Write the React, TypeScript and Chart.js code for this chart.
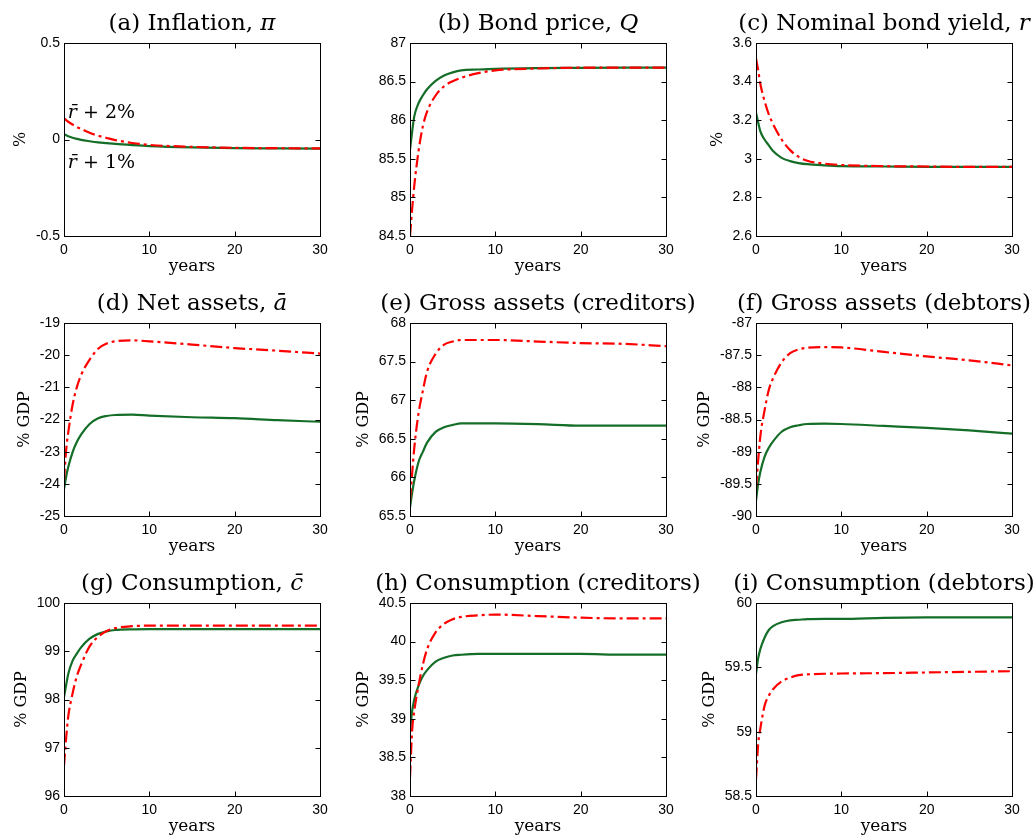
import { useEffect, useRef } from 'react';
import { Chart, registerables } from 'chart.js';

Chart.register(...registerables);

// ---------- data ----------
const YEARS = [0, 0.25, 0.5, 1, 1.5, 2, 3, 4, 5, 6, 8, 10, 15, 20, 25, 30];
const YEAR_TICKS = [0, 10, 20, 30];

// (a) Inflation
const inflationHigh = [0.11, 0.1, 0.092, 0.078, 0.065, 0.055, 0.035, 0.02, 0.008, -0.003, -0.018, -0.028, -0.038, -0.043, -0.045, -0.046];
const inflationLow = [0.028, 0.022, 0.017, 0.009, 0.003, -0.002, -0.009, -0.015, -0.019, -0.023, -0.029, -0.034, -0.041, -0.045, -0.046, -0.047];
const inflationTicks = [-0.5, 0, 0.5];

// (b) Bond price
const bondPriceHigh = [84.5, 84.85, 85.15, 85.6, 85.92, 86.11, 86.32, 86.44, 86.505, 86.55, 86.61, 86.645, 86.67, 86.68, 86.68, 86.68];
const bondPriceLow = [85.62, 85.85, 86.05, 86.22, 86.32, 86.4, 86.51, 86.58, 86.62, 86.645, 86.657, 86.666, 86.675, 86.678, 86.68, 86.68];
const bondPriceTicks = [84.5, 85, 85.5, 86, 86.5, 87];

// (c) Nominal bond yield
const yieldHigh = [3.52, 3.46, 3.39, 3.3, 3.23, 3.18, 3.1, 3.045, 3.01, 2.99, 2.975, 2.968, 2.962, 2.96, 2.958, 2.958];
const yieldLow = [3.238, 3.19, 3.143, 3.1, 3.07, 3.04, 3.005, 2.988, 2.978, 2.972, 2.966, 2.962, 2.96, 2.958, 2.958, 2.958];
const yieldTicks = [2.6, 2.8, 3, 3.2, 3.4, 3.6];

// (d) Net assets
const netAssetsHigh = [-23.9, -22.95, -22.4, -21.55, -21.0, -20.62, -20.14, -19.8, -19.64, -19.57, -19.54, -19.57, -19.67, -19.78, -19.86, -19.95];
const netAssetsLow = [-24.17, -23.78, -23.48, -23.02, -22.7, -22.47, -22.14, -21.96, -21.89, -21.86, -21.85, -21.88, -21.93, -21.96, -22.02, -22.07];
const netAssetsTicks = [-25, -24, -23, -22, -21, -20, -19];

// (e) Gross assets (creditors)
const grossCredHigh = [65.7, 66.05, 66.38, 66.83, 67.12, 67.37, 67.6, 67.72, 67.76, 67.78, 67.78, 67.78, 67.76, 67.74, 67.73, 67.7];
const grossCredLow = [65.61, 65.8, 65.96, 66.2, 66.33, 66.45, 66.59, 66.65, 66.68, 66.7, 66.7, 66.7, 66.69, 66.67, 66.67, 66.67];
const grossCredTicks = [65.5, 66, 66.5, 67, 67.5, 68];

// (f) Gross assets (debtors)
const grossDebtHigh = [-89.56, -89.14, -88.77, -88.36, -88.04, -87.86, -87.61, -87.47, -87.41, -87.385, -87.375, -87.38, -87.45, -87.52, -87.58, -87.66];
const grossDebtLow = [-89.76, -89.5, -89.32, -89.08, -88.94, -88.84, -88.69, -88.62, -88.59, -88.57, -88.565, -88.57, -88.6, -88.63, -88.67, -88.72];
const grossDebtTicks = [-90, -89.5, -89, -88.5, -88, -87.5, -87];

// (g) Consumption
const consHigh = [96.63, 97.2, 97.65, 98.12, 98.48, 98.72, 99.1, 99.3, 99.42, 99.48, 99.52, 99.53, 99.53, 99.53, 99.53, 99.53];
const consLow = [98.05, 98.3, 98.53, 98.8, 98.95, 99.08, 99.26, 99.36, 99.41, 99.44, 99.455, 99.46, 99.46, 99.46, 99.46, 99.46];
const consTicks = [96, 97, 98, 99, 100];

// (h) Consumption (creditors)
const consCredHigh = [38.24, 38.85, 39.1, 39.43, 39.7, 39.9, 40.12, 40.23, 40.29, 40.32, 40.34, 40.35, 40.33, 40.31, 40.3, 40.3];
const consCredLow = [38.83, 39.1, 39.25, 39.43, 39.55, 39.63, 39.74, 39.79, 39.82, 39.83, 39.84, 39.84, 39.84, 39.84, 39.83, 39.83];
const consCredTicks = [38, 38.5, 39, 39.5, 40, 40.5];

// (i) Consumption (debtors)
const consDebtHigh = [58.63, 58.9, 59.02, 59.2, 59.28, 59.33, 59.39, 59.42, 59.44, 59.445, 59.45, 59.452, 59.455, 59.46, 59.465, 59.47];
const consDebtLow = [59.45, 59.57, 59.64, 59.73, 59.79, 59.82, 59.85, 59.865, 59.87, 59.875, 59.877, 59.877, 59.885, 59.888, 59.888, 59.888];
const consDebtTicks = [58.5, 59, 59.5, 60];

// ---------- style ----------
const RED = '#ff0000';
const GREEN = '#146e28';
const SERIF = '"DejaVu Serif", serif';
const SANS = '"Liberation Sans", Arial, sans-serif';
const TICK_FONT = `14px ${SANS}`;

type Seg = { t: string; i?: boolean };

const PANELS: {
  title: Seg[];
  ylabel: string;
  ticks: number[];
  high: number[];
  low: number[];
  notes?: { segs: Seg[]; x: number; y: number }[];
}[] = [
  { title: [{ t: '(a) Inflation, ' }, { t: 'π', i: true }], ylabel: '%', ticks: inflationTicks, high: inflationHigh, low: inflationLow,
    notes: [
      { segs: [{ t: 'r\u0304', i: true }, { t: ' + 2%' }], x: 0.45, y: 0.11 },
      { segs: [{ t: 'r\u0304', i: true }, { t: ' + 1%' }], x: 0.45, y: -0.148 },
    ] },
  { title: [{ t: '(b) Bond price, ' }, { t: 'Q', i: true }], ylabel: '', ticks: bondPriceTicks, high: bondPriceHigh, low: bondPriceLow },
  { title: [{ t: '(c) Nominal bond yield, ' }, { t: 'r', i: true }], ylabel: '%', ticks: yieldTicks, high: yieldHigh, low: yieldLow },
  { title: [{ t: '(d) Net assets, ' }, { t: 'a\u0304', i: true }], ylabel: '% GDP', ticks: netAssetsTicks, high: netAssetsHigh, low: netAssetsLow },
  { title: [{ t: '(e) Gross assets (creditors)' }], ylabel: '% GDP', ticks: grossCredTicks, high: grossCredHigh, low: grossCredLow },
  { title: [{ t: '(f) Gross assets (debtors)' }], ylabel: '% GDP', ticks: grossDebtTicks, high: grossDebtHigh, low: grossDebtLow },
  { title: [{ t: '(g) Consumption, ' }, { t: 'c\u0304', i: true }], ylabel: '% GDP', ticks: consTicks, high: consHigh, low: consLow },
  { title: [{ t: '(h) Consumption (creditors)' }], ylabel: '% GDP', ticks: consCredTicks, high: consCredHigh, low: consCredLow },
  { title: [{ t: '(i) Consumption (debtors)' }], ylabel: '% GDP', ticks: consDebtTicks, high: consDebtHigh, low: consDebtLow },
];

const W = 1036;
const H = 840;
const COL_W = 346;
const ROW_H = 280;

function drawSegs(ctx: CanvasRenderingContext2D, segs: Seg[], x: number, y: number, size: number, align: 'center' | 'left') {
  const fonts = segs.map((s) => `${s.i ? 'italic ' : ''}${size}px ${SERIF}`);
  const widths = segs.map((s, k) => {
    ctx.font = fonts[k];
    return ctx.measureText(s.t).width;
  });
  const total = widths.reduce((a, b) => a + b, 0);
  let cx = align === 'center' ? x - total / 2 : x;
  ctx.textAlign = 'left';
  ctx.textBaseline = 'alphabetic';
  segs.forEach((s, k) => {
    ctx.font = fonts[k];
    ctx.fillText(s.t, cx, y);
    cx += widths[k];
  });
}

const decoPlugin = {
  id: 'panelDeco',
  afterDraw(chart: any, _args: any, opts: any) {
    const { ctx, chartArea: a, scales } = chart;
    const L = Math.round(a.left) + 0.5;
    const R = Math.round(a.right) + 0.5;
    const T = Math.round(a.top) + 0.5;
    const B = Math.round(a.bottom) + 0.5;
    ctx.save();
    ctx.strokeStyle = '#000';
    ctx.lineWidth = 1;
    ctx.strokeRect(L, T, R - L, B - T);
    const tl = 5;
    ctx.beginPath();
    scales.x.ticks.forEach((t: any) => {
      const px = Math.round(scales.x.getPixelForValue(t.value)) + 0.5;
      ctx.moveTo(px, B); ctx.lineTo(px, B - tl);
      ctx.moveTo(px, T); ctx.lineTo(px, T + tl);
    });
    scales.y.ticks.forEach((t: any) => {
      const py = Math.round(scales.y.getPixelForValue(t.value)) + 0.5;
      ctx.moveTo(L, py); ctx.lineTo(L + tl, py);
      ctx.moveTo(R, py); ctx.lineTo(R - tl, py);
    });
    ctx.stroke();

    ctx.fillStyle = '#000';
    const cx = (a.left + a.right) / 2;
    drawSegs(ctx, opts.title, cx, a.top - 13, 23, 'center');

    ctx.font = `17px ${SERIF}`;
    ctx.textAlign = 'center';
    ctx.textBaseline = 'middle';
    ctx.fillText('years', cx, a.bottom + 31);

    if (opts.ylabel) {
      ctx.font = TICK_FONT;
      let maxW = 0;
      scales.y.ticks.forEach((t: any) => {
        maxW = Math.max(maxW, ctx.measureText(String(t.value)).width);
      });
      const lx = a.left - 4 - maxW - 15;
      ctx.save();
      ctx.translate(lx, (a.top + a.bottom) / 2);
      ctx.rotate(-Math.PI / 2);
      ctx.font = `16px ${SERIF}`;
      ctx.textAlign = 'center';
      ctx.textBaseline = 'middle';
      ctx.fillText(opts.ylabel, 0, 0);
      ctx.restore();
    }

    (opts.notes || []).forEach((n: any) => {
      drawSegs(ctx, n.segs, scales.x.getPixelForValue(n.x), scales.y.getPixelForValue(n.y), 19, 'left');
    });
    ctx.restore();
  },
};

export default function App() {
  const refs = useRef<(HTMLCanvasElement | null)[]>([]);

  useEffect(() => {
    const charts: Chart[] = [];
    PANELS.forEach((p, idx) => {
      const canvas = refs.current[idx];
      if (!canvas) return;
      const col = idx % 3;
      const row = Math.floor(idx / 3);
      const left = col * COL_W;
      const top = row * ROW_H;
      const cfg: any = {
        type: 'line',
        data: {
          datasets: [
            {
              data: YEARS.map((x, k) => ({ x, y: p.high[k] })),
              borderColor: RED,
              borderWidth: 2.2,
              borderDash: [12, 4, 3, 4],
              pointRadius: 0,
              cubicInterpolationMode: 'monotone',
              fill: false,
            },
            {
              data: YEARS.map((x, k) => ({ x, y: p.low[k] })),
              borderColor: GREEN,
              borderWidth: 2.2,
              pointRadius: 0,
              cubicInterpolationMode: 'monotone',
              fill: false,
            },
          ],
        },
        options: {
          animation: false,
          responsive: false,
          devicePixelRatio: 1,
          events: [],
          layout: {
            padding: {
              left,
              top: top + 43,
              right: W - (left + 320),
              bottom: H - (top + 280),
            },
          },
          plugins: {
            legend: { display: false },
            tooltip: { enabled: false },
            title: { display: false },
            panelDeco: { title: p.title, ylabel: p.ylabel, notes: p.notes },
          },
          scales: {
            x: {
              type: 'linear',
              min: 0,
              max: 30,
              grid: { display: false, drawTicks: false },
              border: { display: false },
              afterBuildTicks: (s: any) => { s.ticks = YEAR_TICKS.map((v) => ({ value: v })); },
              afterFit: (s: any) => { s.height = 44; },
              ticks: { color: '#000', font: { family: SANS, size: 14 }, padding: 6, maxRotation: 0, callback: (v: any) => String(v) },
            },
            y: {
              type: 'linear',
              min: p.ticks[0],
              max: p.ticks[p.ticks.length - 1],
              grid: { display: false, drawTicks: false },
              border: { display: false },
              afterBuildTicks: (s: any) => { s.ticks = p.ticks.map((v) => ({ value: v })); },
              afterFit: (s: any) => { s.width = 64; },
              ticks: { color: '#000', font: { family: SANS, size: 14 }, padding: 4, callback: (v: any) => String(v) },
            },
          },
        },
        plugins: [decoPlugin],
      };
      charts.push(new Chart(canvas, cfg));
    });
    return () => charts.forEach((c) => c.destroy());
  }, []);

  return (
    <div style={{ position: 'absolute', left: 0, top: 0, width: W, height: H, overflow: 'hidden', background: '#fff' }}>
      {PANELS.map((_, i) => (
        <canvas
          key={i}
          ref={(el) => { refs.current[i] = el; }}
          width={W}
          height={H}
          style={{ position: 'absolute', left: 0, top: 0, width: W, height: H }}
        />
      ))}
    </div>
  );
}
